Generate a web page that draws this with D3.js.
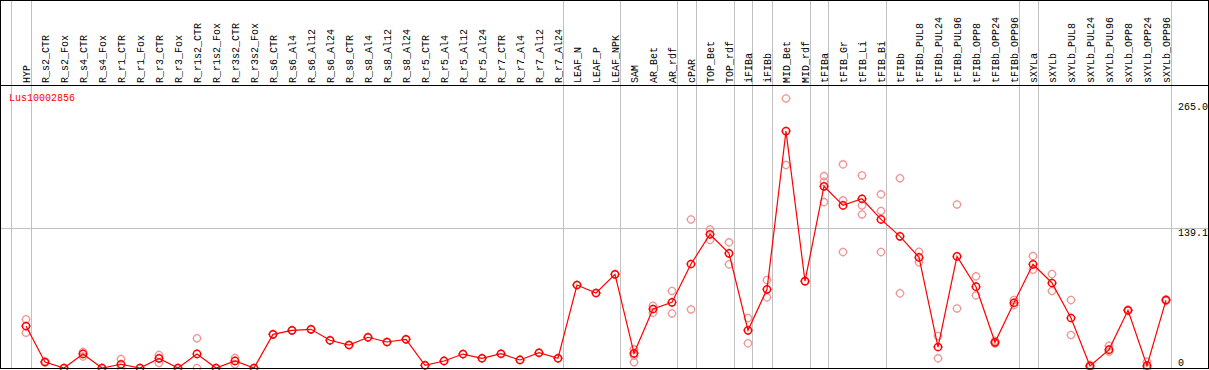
<!DOCTYPE html>
<html><head><meta charset="utf-8">
<script src="https://cdn.jsdelivr.net/npm/d3@7"></script>
<style>body{margin:0;background:#fff;}svg{display:block;}text{font-family:"Liberation Mono","DejaVu Sans Mono",monospace;font-size:10px;}</style>
</head><body>
<script>
const title = "Lus10002856";
const categories = ["HYP","R_s2_CTR","R_s2_Fox","R_s4_CTR","R_s4_Fox","R_r1_CTR","R_r1_Fox","R_r3_CTR","R_r3_Fox","R_r1s2_CTR","R_r1s2_Fox","R_r3s2_CTR","R_r3s2_Fox","R_s6_CTR","R_s6_Al4","R_s6_Al12","R_s6_Al24","R_s8_CTR","R_s8_Al4","R_s8_Al12","R_s8_Al24","R_r5_CTR","R_r5_Al4","R_r5_Al12","R_r5_Al24","R_r7_CTR","R_r7_Al4","R_r7_Al12","R_r7_Al24","LEAF_N","LEAF_P","LEAF_NPK","SAM","AR_Bet","AR_rdf","cPAR","TOP_Bet","TOP_rdf","iFIBa","iFIBb","MID_Bet","MID_rdf","tFIBa","tFIB_Gr","tFIB_Li","tFIB_Bi","tFIBb","tFIBb_PUL8","tFIBb_PUL24","tFIBb_PUL96","tFIBb_OPP8","tFIBb_OPP24","tFIBb_OPP96","sXYLa","sXYLb","sXYLb_PUL8","sXYLb_PUL24","sXYLb_PUL96","sXYLb_OPP8","sXYLb_OPP24","sXYLb_OPP96"];
const means = [41.8,6,0,14,0,3.7,0,9.6,0,14,0,7,0,33.5,37.5,38.5,27.6,22.9,30.6,25.9,28.6,2.7,7,13.9,9.7,14.2,8,15.2,9.7,82.7,74.7,93.3,14.6,58.8,65.4,103.6,133.2,114.2,37.5,78.4,236,86.5,181,162,168.6,148,131.2,110.2,20.9,111.2,81,25.6,65,103.3,84.7,49.8,2,18.3,57.5,2.3,67.7];
const replicates = [[48.5,35.1],[6.5,5.5],[0],[16,11.5],[0],[9,0],[0],[13,5],[0],[29.6,0],[0],[10,3.7],[0],[33.5],[37.5],[38.5],[27.6],[22.9],[30.6],[25.9],[28.6],[2.7],[7],[13.9],[9.7],[14.2],[8],[15.2],[9.7],[82.7],[74.7],[93.3],[18.6,12.5,5.7],[62,55],[76.7,54.4],[148,58.4],[138,127.5],[125.2,103.3],[49.8,24.6],[87.6,70.4],[268.6,202.2],[86.5],[191.2,185.5,165.3],[202.9,167,115.5],[191.9,162,153],[173,156.4,115.5],[189,74.4],[115.8,105.3],[31.9,9.6],[163,59.4],[91.3,72.4],[27,24.5],[67.7,62.7],[111.5,97.9],[93.6,76.7],[67.7,32.9],[3,1],[22.2,16.2],[58,57],[6.3,0],[68.5,67]];
const groupEnds = [-1,0,28,31,34,35,37,38,39,41,42,45,52,53,60];
const yTicks = [0,139.1,265];
const yTickLabels = ["0","139.1","265.0"];

const W=1209,H=370, headerB=85, plotBottom=368, plotRight=1208;
const svg=d3.select("body").append("svg").attr("width",W).attr("height",H);
const x=d3.scalePoint().domain(categories).range([26,1166]).padding(0);
const xi=d3.scaleLinear().domain([0,categories.length-1]).range([26,1166]);
const y=d3.scaleLinear().domain([0,265]).range([368,102]);

// vertical group separators
svg.append("g").selectAll("line").data(groupEnds).join("line")
  .attr("x1",d=>Math.round(xi(d)+4.5)+0.5).attr("x2",d=>Math.round(xi(d)+4.5)+0.5)
  .attr("y1",0).attr("y2",plotBottom).attr("stroke","#c0c0c0").attr("stroke-width",1);
// horizontal grid at middle tick
svg.append("line").attr("x1",0).attr("x2",plotRight).attr("y1",Math.round(y(139.1))+0.5).attr("y2",Math.round(y(139.1))+0.5)
  .attr("stroke","#c0c0c0");

// header labels
svg.append("g").selectAll("text").data(categories).join("text")
  .attr("transform",d=>`translate(${x(d)+3.5},83) rotate(-90)`)
  .attr("fill","#000").text(d=>d);

// header separator line
svg.append("line").attr("x1",0).attr("x2",plotRight).attr("y1",headerB+0.5).attr("y2",headerB+0.5).attr("stroke","#000");

// title
svg.append("text").attr("x",9).attr("y",101).attr("fill","#ff0000").text(title);

// y tick labels
svg.append("g").selectAll("text").data(yTicks).join("text")
  .attr("x",1178).attr("y",(d)=>Math.min(y(d)+8,366)).attr("fill","#000")
  .text((d,i)=>yTickLabels[i]);

const r=3.6;
function markerPath(){
  const p=d3.path();
  p.moveTo(r,0); p.arc(0,0,r,0,2*Math.PI);
  p.moveTo(0,-r); p.lineTo(0,-r-1);
  p.moveTo(0,r); p.lineTo(0,r+1);
  p.moveTo(-r,0); p.lineTo(-r-1,0);
  p.moveTo(r,0); p.lineTo(r+1,0);
  return p.toString();
}
const mp=markerPath();

const plot=svg.append("g");
// replicates
const repData=[];
replicates.forEach((arr,i)=>arr.forEach(v=>repData.push({c:categories[i],v})));
plot.append("g").selectAll("path").data(repData).join("path")
  .attr("d",mp).attr("transform",d=>`translate(${x(d.c)},${y(d.v)})`)
  .attr("fill","none").attr("stroke","#f09898").attr("stroke-width",1.3);

// line
plot.append("path").datum(means).attr("fill","none").attr("stroke","#ff0000").attr("stroke-width",1.2)
  .attr("d",d3.line().x((d,i)=>x(categories[i])).y(d=>y(d)));
// mean markers
plot.append("g").selectAll("path").data(means).join("path")
  .attr("d",mp).attr("transform",(d,i)=>`translate(${x(categories[i])},${y(d)})`)
  .attr("fill","none").attr("stroke","#ff0000").attr("stroke-width",1.5);

// border
svg.append("rect").attr("x",0.5).attr("y",0.5).attr("width",plotRight).attr("height",plotBottom)
  .attr("fill","none").attr("stroke","#000").attr("stroke-width",1);
</script>
</body></html>
